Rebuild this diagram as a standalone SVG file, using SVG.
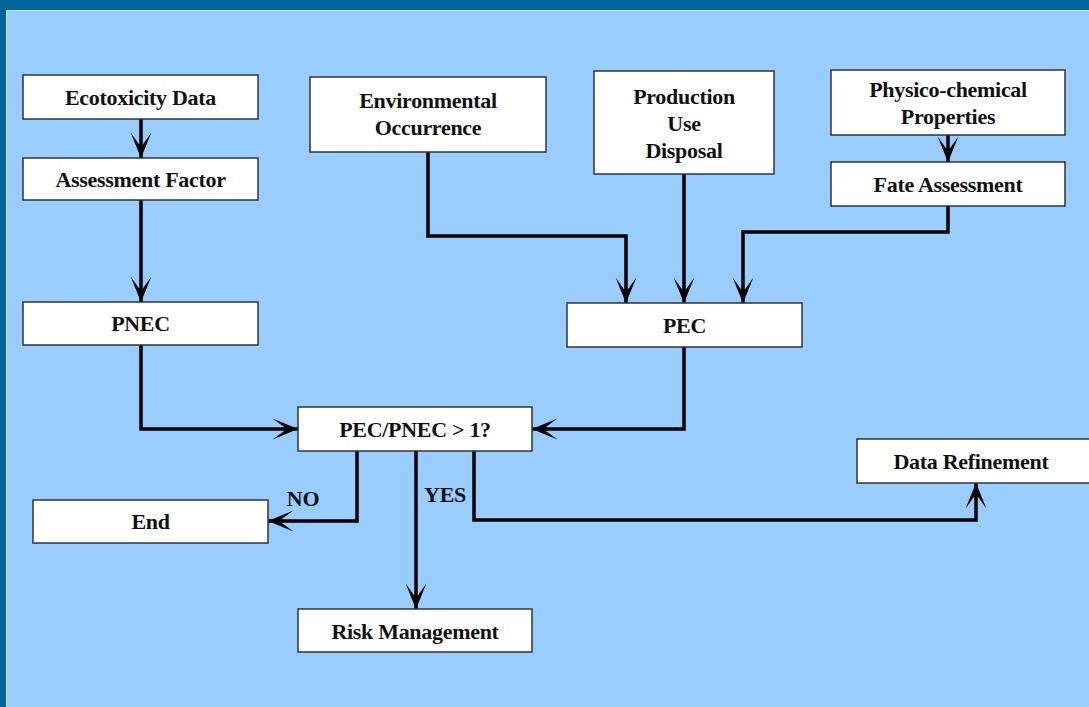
<svg xmlns="http://www.w3.org/2000/svg" width="1089" height="707" viewBox="0 0 1089 707">
<style>
.box rect{fill:#fff;stroke:#333;stroke-width:1.5}
.box text, .lbl{font-family:"Liberation Serif","Times New Roman",serif;font-weight:bold;font-size:22px;fill:#111;text-anchor:middle;letter-spacing:-0.3px}
.conn path{fill:none;stroke:#000;stroke-width:3.5}
</style>
<defs>
<marker id="ah" markerUnits="userSpaceOnUse" markerWidth="30" markerHeight="30" refX="0" refY="0" viewBox="-24 -12 26 24" orient="auto" overflow="visible">
<path d="M0,0 L-22,-9 L-12,-1.8 L-12,1.8 L-22,9 Z" fill="#000"/>
</marker>
</defs>
<rect x="0" y="0" width="1089" height="707" fill="#006699"/>
<rect x="6" y="10" width="1083" height="697" fill="#99CCFF"/>
<path d="M6.5,707 V10.5 H1089" fill="none" stroke="#cfe6ff" stroke-width="1"/>

<g class="conn">
<path d="M141,119 V158" marker-end="url(#ah)"/>
<path d="M141,200 V302" marker-end="url(#ah)"/>
<path d="M948,135 V162" marker-end="url(#ah)"/>
<path d="M428,152 V236 H626 V303" marker-end="url(#ah)"/>
<path d="M684,174 V303" marker-end="url(#ah)"/>
<path d="M948,206 V232 H743 V303" marker-end="url(#ah)"/>
<path d="M141,345 V429 H298" marker-end="url(#ah)"/>
<path d="M684,347 V429 H532" marker-end="url(#ah)"/>
<path d="M357,451 V521 H268" marker-end="url(#ah)"/>
<path d="M416,451 V609" marker-end="url(#ah)"/>
<path d="M474,451 V520 H976 V483" marker-end="url(#ah)"/>
</g>

<g id="ecotox" class="box"><rect x="23" y="75" width="235" height="44"/><text x="140.5" y="105">Ecotoxicity Data</text></g>
<g id="assess" class="box"><rect x="23" y="158" width="235" height="42"/><text x="140.5" y="187">Assessment Factor</text></g>
<g id="pnec" class="box"><rect x="23" y="302" width="235" height="43"/><text x="140.5" y="331">PNEC</text></g>
<g id="envocc" class="box"><rect x="310" y="77" width="236" height="75"/><text x="428" y="108">Environmental</text><text x="428" y="135">Occurrence</text></g>
<g id="prod" class="box"><rect x="594" y="71" width="180" height="103"/><text x="684" y="104">Production</text><text x="684" y="131">Use</text><text x="684" y="158">Disposal</text></g>
<g id="physchem" class="box"><rect x="831" y="70" width="234" height="65"/><text x="948" y="97">Physico-chemical</text><text x="948" y="124">Properties</text></g>
<g id="fate" class="box"><rect x="831" y="162" width="234" height="44"/><text x="948" y="192">Fate Assessment</text></g>
<g id="pec" class="box"><rect x="567" y="303" width="235" height="44"/><text x="684.5" y="333">PEC</text></g>
<g id="ratio" class="box"><rect x="298" y="407" width="234" height="44"/><text x="415" y="437">PEC/PNEC &gt; 1?</text></g>
<g id="refine" class="box"><rect x="857" y="439" width="236" height="44"/><text x="971" y="469">Data Refinement</text></g>
<g id="end" class="box"><rect x="33" y="500" width="235" height="43"/><text x="150.5" y="529">End</text></g>
<g id="risk" class="box"><rect x="298" y="609" width="234" height="43"/><text x="415" y="639">Risk Management</text></g>

<text class="lbl" x="303" y="506">NO</text>
<text class="lbl" x="445" y="502">YES</text>
</svg>
